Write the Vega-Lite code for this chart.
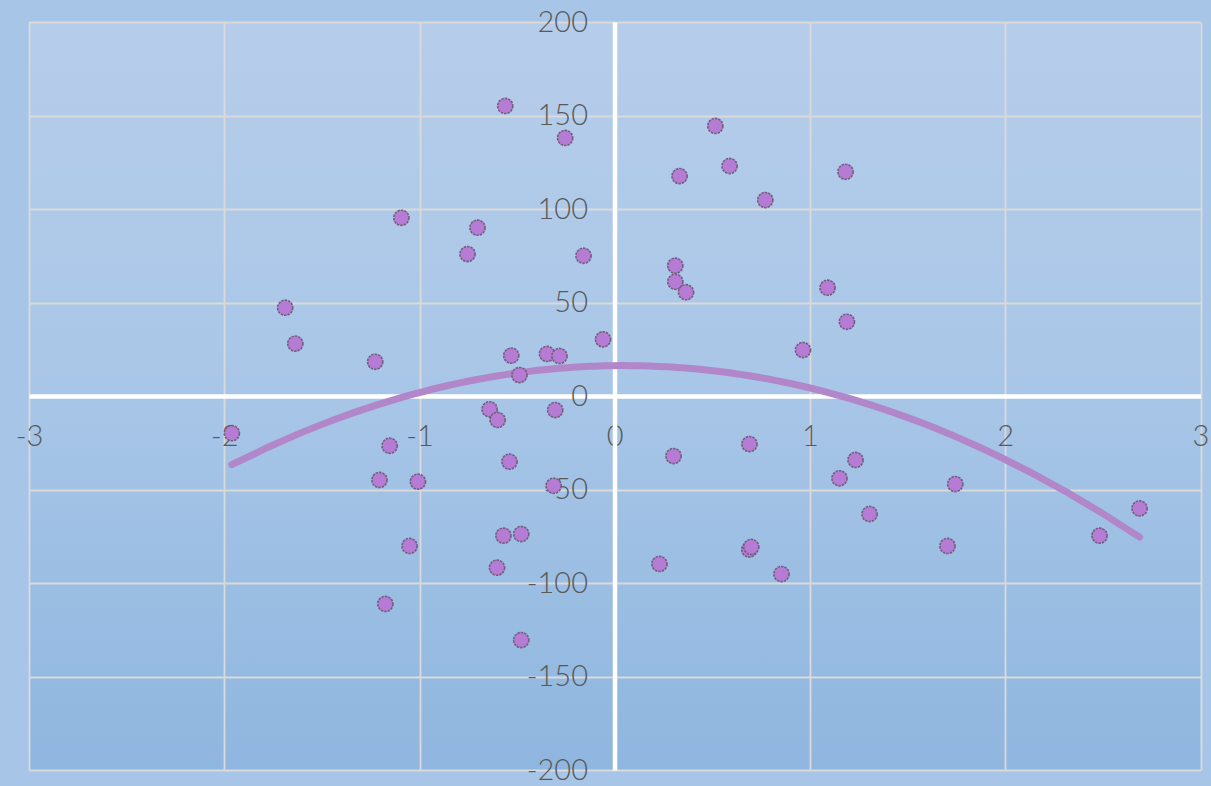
{
  "$schema": "https://vega.github.io/schema/vega-lite/v6.json",
  "width": 1171.5,
  "height": 748,
  "autosize": "none",
  "padding": {"left": 29, "top": 22, "right": 10.5, "bottom": 16},
  "background": "#a7c5e7",
  "config": {
    "view": {
      "stroke": null,
      "fill": {"gradient": "linear", "x1": 0, "y1": 0, "x2": 0, "y2": 1,
        "stops": [{"offset": 0, "color": "#b6cdea"}, {"offset": 0.45, "color": "#aac7e8"}, {"offset": 1, "color": "#8fb6df"}]}
    },
    "axis": {
      "grid": true,
      "gridColor": "#dadada",
      "gridWidth": 1.8,
      "domainColor": "#ffffff",
      "domainWidth": 4.5,
      "ticks": false,
      "labelFont": "Lato",
      "labelFontWeight": 300,
      "labelFontSize": 29,
      "labelColor": "#595959",
      "labelFlush": false,
      "labelOverlap": false,
      "labelExpr": "toString(datum.value)",
      "title": null
    }
  },
  "data": {
    "values": [
      {"x": -0.561, "y": 155.1}, {"x": -0.254, "y": 138.0}, {"x": -1.093, "y": 95.3},
      {"x": -0.703, "y": 90.0}, {"x": -0.754, "y": 75.9}, {"x": -0.160, "y": 75.0},
      {"x": -1.688, "y": 47.2}, {"x": -1.636, "y": 28.0}, {"x": -1.227, "y": 18.3},
      {"x": -0.530, "y": 21.6}, {"x": -0.347, "y": 22.5}, {"x": -0.283, "y": 21.4},
      {"x": -0.488, "y": 11.2}, {"x": -0.060, "y": 30.3}, {"x": 0.515, "y": 144.4},
      {"x": 0.588, "y": 123.0}, {"x": 0.332, "y": 117.6}, {"x": 0.771, "y": 104.8},
      {"x": 1.182, "y": 119.9}, {"x": 0.310, "y": 69.7}, {"x": 0.310, "y": 61.1},
      {"x": 0.365, "y": 55.5}, {"x": 1.090, "y": 57.9}, {"x": 1.189, "y": 39.7},
      {"x": 0.964, "y": 24.6}, {"x": -1.961, "y": -19.9}, {"x": -1.153, "y": -26.6},
      {"x": -1.205, "y": -44.9}, {"x": -1.008, "y": -45.8}, {"x": -1.051, "y": -80.2},
      {"x": -1.175, "y": -111.2}, {"x": -0.641, "y": -7.1}, {"x": -0.600, "y": -12.8},
      {"x": -0.539, "y": -35.1}, {"x": -0.305, "y": -7.5}, {"x": -0.313, "y": -48.0},
      {"x": -0.570, "y": -74.7}, {"x": -0.479, "y": -73.8}, {"x": -0.603, "y": -91.8},
      {"x": -0.479, "y": -130.5}, {"x": 0.301, "y": -32.1}, {"x": 0.690, "y": -25.7},
      {"x": 0.229, "y": -89.8}, {"x": 0.689, "y": -82.1}, {"x": 0.699, "y": -80.7},
      {"x": 0.854, "y": -95.2}, {"x": 1.233, "y": -34.2}, {"x": 1.151, "y": -44.0},
      {"x": 1.744, "y": -47.1}, {"x": 1.305, "y": -63.1}, {"x": 1.704, "y": -80.2},
      {"x": 2.688, "y": -60.1}, {"x": 2.483, "y": -74.7}
    ]
  },
  "encoding": {
    "x": {
      "field": "x", "type": "quantitative",
      "scale": {"domain": [-3, 3], "nice": false, "zero": false},
      "axis": {"values": [-3, -2, -1, 0, 1, 2, 3], "offset": -374, "labelPadding": 26}
    },
    "y": {
      "field": "y", "type": "quantitative",
      "scale": {"domain": [-200, 200], "nice": false, "zero": false},
      "axis": {"values": [-200, -150, -100, -50, 0, 50, 100, 150, 200], "offset": -585.5, "labelPadding": 27}
    }
  },
  "layer": [
    {
      "transform": [{"regression": "y", "on": "x", "method": "poly", "order": 2}],
      "mark": {"type": "line", "color": "#b287c9", "strokeWidth": 7, "strokeCap": "round"}
    },
    {
      "mark": {"type": "circle", "size": 230, "fill": "#b67bd4", "stroke": "#735d7e", "strokeWidth": 1.6, "opacity": 1, "strokeDash": [2.5, 1]}
    }
  ]
}
